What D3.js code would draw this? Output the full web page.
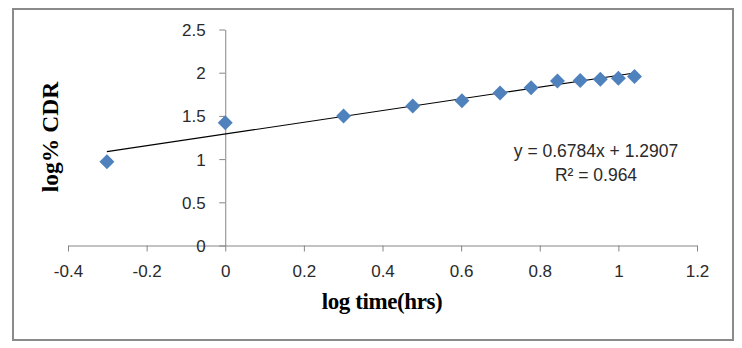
<!DOCTYPE html>
<html>
<head>
<meta charset="utf-8">
<script src="https://cdn.jsdelivr.net/npm/d3@7"></script>
<style>
    html, body { margin: 0; padding: 0; background: #fff; }
    svg { display: block; }
    .tick text { font-family: "Liberation Sans", Arial, sans-serif; font-size: 17px; fill: #2a2a2a; }
</style>
</head>
<body>
<div id="chart"></div>
<script>
// data: log time (hrs) vs log % cumulative drug release
const logTime = [-0.301, 0, 0.301, 0.477, 0.602, 0.699, 0.778, 0.845, 0.903, 0.954, 1.0, 1.041];
const logCDR = [0.97, 1.42, 1.50, 1.615, 1.675, 1.765, 1.825, 1.905, 1.91, 1.925, 1.935, 1.955];

const xTicks = [-0.4, -0.2, 0, 0.2, 0.4, 0.6, 0.8, 1, 1.2];
const xTickLabels = ['-0.4', '-0.2', '0', '0.2', '0.4', '0.6', '0.8', '1', '1.2'];
const yTicks = [0, 0.5, 1, 1.5, 2, 2.5];
const yTickLabels = ['0', '0.5', '1', '1.5', '2', '2.5'];

// linear trendline as shown in the chart
const slope = 0.6784;
const intercept = 1.2907;
const equationText = ['y = 0.6784x + 1.2907', 'R² = 0.964'];

const width = 742, height = 348;

const svg = d3.select('#chart').append('svg')
    .attr('width', width)
    .attr('height', height);

svg.append('rect')
    .attr('width', width).attr('height', height)
    .attr('fill', '#fff');

// outer frame
svg.append('rect')
    .attr('x', 13).attr('y', 9)
    .attr('width', 720).attr('height', 331)
    .attr('fill', 'none')
    .attr('stroke', '#8a8a8a')
    .attr('stroke-width', 2);

const x = d3.scaleLinear().domain([-0.4, 1.2]).range([68, 697]);
const y = d3.scaleLinear().domain([0, 2.5]).range([245.5, 29.5]);

// x axis crosses at y = 0
const xAxis = svg.append('g')
    .attr('transform', `translate(0,${y(0)})`)
    .call(d3.axisBottom(x)
        .tickValues(xTicks)
        .tickFormat((d, i) => xTickLabels[i])
        .tickSize(6)
        .tickSizeOuter(0));

xAxis.selectAll('text').attr('y', 31).attr('dy', null);

// y axis crosses at x = 0
const yAxis = svg.append('g')
    .attr('transform', `translate(${x(0)},0)`)
    .call(d3.axisLeft(y)
        .tickValues(yTicks)
        .tickFormat((d, i) => yTickLabels[i])
        .tickSize(6)
        .tickSizeOuter(0));

yAxis.selectAll('text').attr('x', -19.5).attr('dy', '0.35em');

svg.selectAll('.domain, .tick line')
    .attr('stroke', '#868686')
    .attr('stroke-width', 1);

// trendline over the data range
const xMin = d3.min(logTime), xMax = d3.max(logTime);
svg.append('line')
    .attr('x1', x(xMin)).attr('y1', y(slope * xMin + intercept))
    .attr('x2', x(xMax)).attr('y2', y(slope * xMax + intercept))
    .attr('stroke', '#000')
    .attr('stroke-width', 1.1);

// diamond markers
const diamond = d3.symbol().type(d3.symbolSquare).size(112);
svg.selectAll('.pt')
    .data(logTime.map((t, i) => ({t, v: logCDR[i]})))
    .join('path')
    .attr('class', 'pt')
    .attr('d', diamond)
    .attr('transform', d => `translate(${x(d.t)},${y(d.v)}) rotate(45)`)
    .attr('fill', '#4f81bd');

// trendline label
svg.append('g')
    .selectAll('text')
    .data(equationText)
    .join('text')
    .attr('x', 596)
    .attr('y', (d, i) => 157 + i * 24)
    .attr('text-anchor', 'middle')
    .style('font-family', '"Liberation Sans", Arial, sans-serif')
    .style('font-size', '17.5px')
    .style('fill', '#2a2a2a')
    .text(d => d);

// axis titles
svg.append('text')
    .attr('x', 382).attr('y', 309)
    .attr('text-anchor', 'middle')
    .style('font-family', '"Liberation Serif", "Times New Roman", serif')
    .style('font-weight', 'bold')
    .style('font-size', '23px')
    .style('letter-spacing', '-0.4px')
    .text('log time(hrs)');

svg.append('text')
    .attr('transform', 'translate(58,137) rotate(-90)')
    .attr('text-anchor', 'middle')
    .style('font-family', '"Liberation Serif", "Times New Roman", serif')
    .style('font-weight', 'bold')
    .style('font-size', '23.5px')
    .text('log% CDR');
</script>
</body>
</html>
